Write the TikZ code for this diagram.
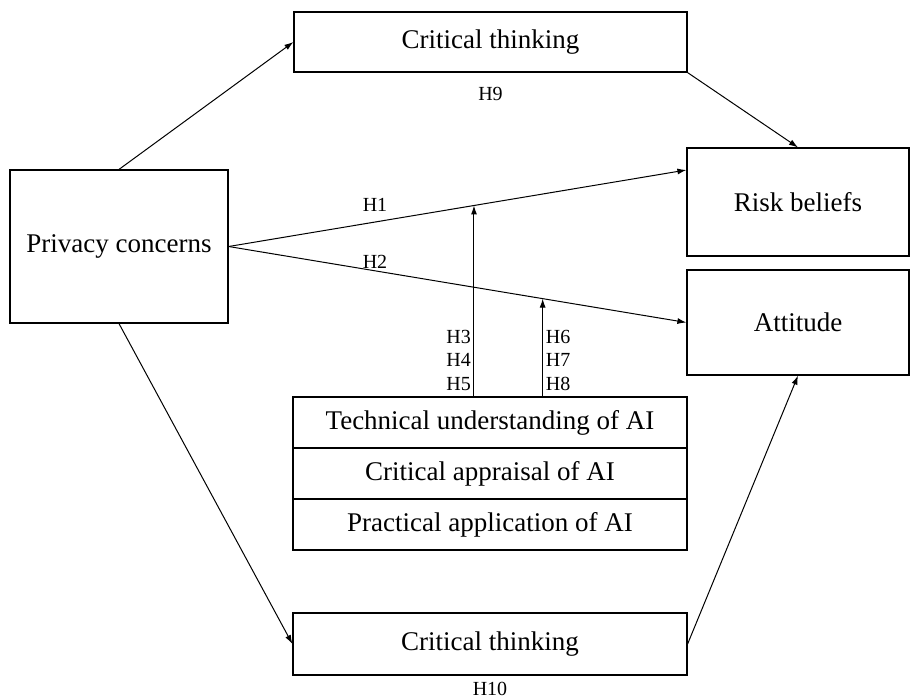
\documentclass[tikz,border=0pt]{standalone}
\usepackage{fontspec}
\setmainfont{Liberation Serif}
\usetikzlibrary{positioning,calc,arrows.meta}
\begin{document}
\begin{tikzpicture}[x=1pt,y=-1pt,
  box/.style={draw,line width=1.2pt,rectangle,inner sep=0pt,font=\fontsize{27}{32}\selectfont},
  arr/.style={line width=1pt,-{Latex[length=9pt,width=6pt]}},
  hl/.style={font=\fontsize{20}{23.5}\selectfont,inner sep=0pt}]
\useasboundingbox (0,0) rectangle (911,699);
\node[box,minimum width=393pt,minimum height=60pt] (ct1) at (490.5,42) {Critical thinking};
\node[box,minimum width=218pt,minimum height=153pt] (pc) at (119,246.5) {Privacy concerns};
\node[box,minimum width=222pt,minimum height=108pt] (rb) at (798,202) {Risk beliefs};
\node[box,minimum width=222pt,minimum height=105pt] (att) at (798,322.5) {Attitude};
\node[box,minimum width=394pt,minimum height=51pt] (tu) at (490,422.5) {Technical understanding of AI};
\node[box,minimum width=394pt,minimum height=51pt] (ca) at (490,473.5) {Critical appraisal of AI};
\node[box,minimum width=394pt,minimum height=51pt] (pa) at (490,524.5) {Practical application of AI};
\node[box,minimum width=394pt,minimum height=62pt] (ct2) at (490,644) {Critical thinking};

\node[hl,below=14pt of ct1] (h9) {H9};
\node[hl,below=6pt of ct2] (h10) {H10};

\draw[arr] (pc.north) -- (ct1.west);
\draw[arr] (ct1.south east) -- (rb.north);
\draw[arr] (pc.east) -- coordinate[pos=0.536] (m1) (rb.164);
\draw[arr] (pc.east) -- coordinate[pos=0.686] (m2) (att.west);
\node[hl] (h1) at (375,205) {H1};
\node[hl] (h2) at (375,262) {H2};
\draw[arr] (m1 |- tu.north) -- (m1);
\draw[arr] (m2 |- tu.north) -- (m2);
\node[hl,align=right,anchor=south east,inner xsep=3pt,inner ysep=6pt] (h35) at (m1 |- tu.north) {H3\\H4\\H5};
\node[hl,align=left,anchor=south west,inner xsep=3pt,inner ysep=6pt] (h68) at (m2 |- tu.north) {H6\\H7\\H8};
\draw[arr] (pc.south) -- (ct2.west);
\draw[arr] (ct2.east) -- (att.south);
\end{tikzpicture}
\end{document}
